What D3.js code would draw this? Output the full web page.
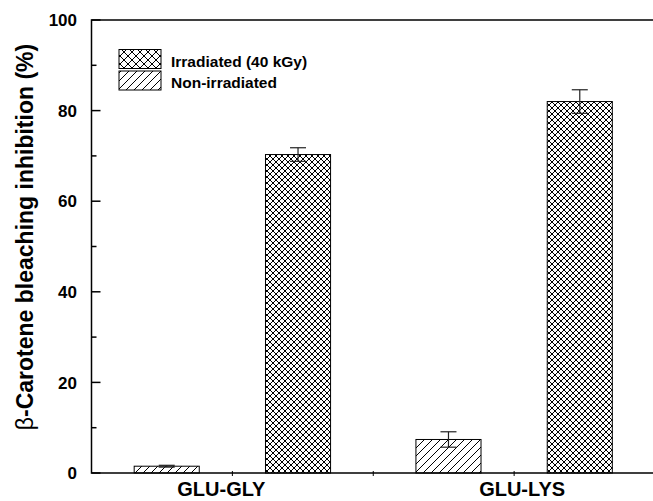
<!DOCTYPE html>
<html>
<head>
<meta charset="utf-8">
<script src="https://cdn.jsdelivr.net/npm/d3@7"></script>
<style>
  html, body { margin: 0; padding: 0; background: #fff; }
  text { font-family: "Liberation Sans", Arial, sans-serif; font-weight: bold; }
</style>
</head>
<body>
<div id="chart"></div>
<script>
// values
const categories = ["GLU-GLY", "GLU-LYS"];
const seriesNames = ["Irradiated (40 kGy)", "Non-irradiated"];
const nonIrradiated = [1.5, 7.4];
const nonIrradiatedErr = [0.2, 1.7];
const irradiated = [70.3, 82.0];
const irradiatedErr = [1.5, 2.6];
const yTicks = [0, 20, 40, 60, 80, 100];
const yMinorTicks = [10, 30, 50, 70, 90];

const width = 653,
      height = 501;

const svg = d3.select("#chart")
  .append("svg")
    .attr("width", width)
    .attr("height", height);

const defs = svg.append("defs");

// hatch "/" pattern, optionally crossed
function hatch(id, s, both) {
  const p = defs.append("pattern")
    .attr("id", id)
    .attr("patternUnits", "userSpaceOnUse")
    .attr("width", s)
    .attr("height", s);
  p.append("rect").attr("width", s).attr("height", s).attr("fill", "#fff");
  p.append("path")
    .attr("d", `M0,${s} L${s},0 M${-s/2},${s/2} L${s/2},${-s/2} M${s/2},${s*1.5} L${s*1.5},${s/2}`)
    .attr("stroke", "#000")
    .attr("stroke-width", 1);
  if (both) {
    p.append("path")
      .attr("d", `M0,0 L${s},${s} M${-s/2},${s/2} L${s/2},${s*1.5} M${s/2},${-s/2} L${s*1.5},${s/2}`)
      .attr("stroke", "#000")
      .attr("stroke-width", 1);
  }
}
hatch("diag", 8, false);
hatch("cross", 6, true);
hatch("diagLeg", 8, false);
hatch("crossLeg", 8, true);

const x = d3.scaleLinear()
  .domain([0.5, 2.5])
  .range([91.5, 655]);

const y = d3.scaleLinear()
  .domain([0, 100])
  .range([473, 20]);

const barW = 0.231,
      offset = 0.233;

const rows = categories.map((c, i) => [
  { cat: i + 1, v: nonIrradiated[i], e: nonIrradiatedErr[i], pos: -offset, fill: "url(#diag)" },
  { cat: i + 1, v: irradiated[i], e: irradiatedErr[i], pos: offset, fill: "url(#cross)" }
]).flat();

// bars
svg.selectAll("rect.bar")
  .data(rows)
  .enter()
  .append("rect")
    .attr("class", "bar")
    .attr("x", d => x(d.cat + d.pos - barW / 2))
    .attr("y", d => y(d.v))
    .attr("width", d => x(d.cat + d.pos + barW / 2) - x(d.cat + d.pos - barW / 2))
    .attr("height", d => y(0) - y(d.v))
    .attr("fill", d => d.fill)
    .attr("stroke", "#000")
    .attr("stroke-width", 1);

// error bars
const capW = 8;
const err = svg.selectAll("g.err")
  .data(rows)
  .enter()
  .append("g")
    .attr("class", "err")
    .attr("stroke", "#222")
    .attr("stroke-width", 1.2);
err.append("line")
  .attr("x1", d => x(d.cat + d.pos))
  .attr("x2", d => x(d.cat + d.pos))
  .attr("y1", d => y(d.v - d.e))
  .attr("y2", d => y(d.v + d.e));
err.append("line")
  .attr("x1", d => x(d.cat + d.pos) - capW)
  .attr("x2", d => x(d.cat + d.pos) + capW)
  .attr("y1", d => y(d.v + d.e))
  .attr("y2", d => y(d.v + d.e));
err.append("line")
  .attr("x1", d => x(d.cat + d.pos) - capW)
  .attr("x2", d => x(d.cat + d.pos) + capW)
  .attr("y1", d => y(d.v - d.e))
  .attr("y2", d => y(d.v - d.e));

// frame: left axis, top line, bottom axis
const axisG = svg.append("g")
  .attr("stroke", "#000")
  .attr("stroke-width", 1.5)
  .attr("fill", "none");
axisG.append("path")
  .attr("d", `M${x(2.5)},${y(100)} L${x(0.5)},${y(100)} L${x(0.5)},${y(0)} L${x(2.5)},${y(0)}`);

// y ticks (inward)
axisG.selectAll("line.major")
  .data(yTicks)
  .enter()
  .append("line")
    .attr("x1", x(0.5))
    .attr("x2", x(0.5) + 9)
    .attr("y1", d => y(d))
    .attr("y2", d => y(d));
axisG.selectAll("line.minor")
  .data(yMinorTicks)
  .enter()
  .append("line")
    .attr("x1", x(0.5))
    .attr("x2", x(0.5) + 5)
    .attr("y1", d => y(d))
    .attr("y2", d => y(d));

// x ticks
axisG.selectAll("line.xt")
  .data([1, 1.5, 2])
  .enter()
  .append("line")
    .attr("stroke-width", 1)
    .attr("x1", d => x(d))
    .attr("x2", d => x(d))
    .attr("y1", y(0) - 2)
    .attr("y2", y(0) + 3);

svg.selectAll("text.ytick")
  .data(yTicks)
  .enter()
  .append("text")
    .attr("x", 77)
    .attr("y", d => y(d))
    .attr("dy", "0.36em")
    .attr("text-anchor", "end")
    .style("font-size", "17px")
    .text(d => d);

const labelDx = [-11, 8];
svg.selectAll("text.xlab")
  .data(categories)
  .enter()
  .append("text")
    .attr("x", (d, i) => x(i + 1) + labelDx[i])
    .attr("y", 496)
    .attr("text-anchor", "middle")
    .style("font-size", "20px")
    .text(d => d);

// y title
const yt = svg.append("text")
  .attr("transform", "translate(33,237) rotate(-90)")
  .attr("text-anchor", "middle")
  .style("font-size", "23px");
yt.append("tspan").style("font-weight", "normal").text("β");
yt.append("tspan").text("-Carotene bleaching inhibition (%)");

// legend
const legend = svg.append("g");
const legFills = ["url(#crossLeg)", "url(#diagLeg)"];
legend.selectAll("rect")
  .data(seriesNames)
  .enter()
  .append("rect")
    .attr("x", 119)
    .attr("y", (d, i) => 49.5 + i * 21.5)
    .attr("width", 42)
    .attr("height", 19)
    .attr("fill", (d, i) => legFills[i])
    .attr("stroke", "#000")
    .attr("stroke-width", 1);
legend.selectAll("text")
  .data(seriesNames)
  .enter()
  .append("text")
    .attr("x", 171)
    .attr("y", (d, i) => 66.5 + i * 21.5)
    .style("font-size", "15.5px")
    .text(d => d);
</script>
</body>
</html>
